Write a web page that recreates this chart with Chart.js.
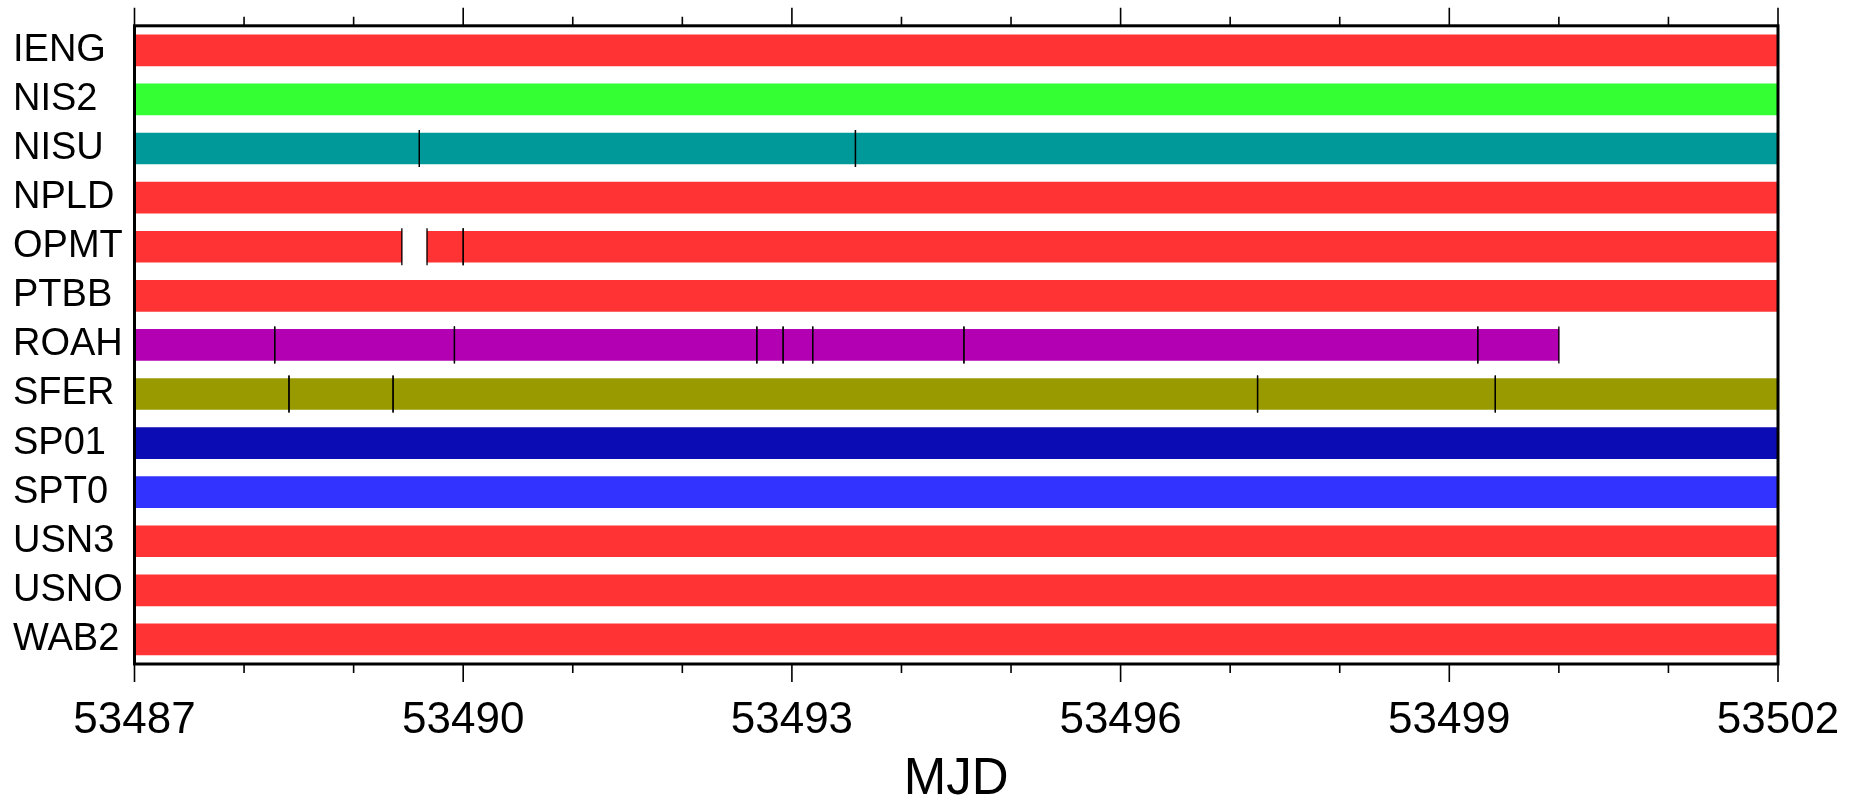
<!DOCTYPE html>
<html>
<head>
<meta charset="utf-8">
<title>Station data availability by MJD</title>
<script src="https://cdn.jsdelivr.net/npm/chart.js@4/dist/chart.umd.min.js"></script>
<style>
  html, body { margin: 0; padding: 0; background: #fff; }
  canvas { display: block; }
</style>
</head>
<body>
<canvas id="mjdChart" width="1862" height="805"></canvas>
<script>
// stations, top to bottom
var stations = ['IENG', 'NIS2', 'NISU', 'NPLD', 'OPMT', 'PTBB', 'ROAH', 'SFER', 'SP01', 'SPT0', 'USN3', 'USNO', 'WAB2'];
var stationColors = ['#ff3333', '#33ff33', '#009999', '#ff3333', '#ff3333', '#ff3333', '#b300b3',
                     '#999900', '#0c0cb4', '#3333ff', '#ff3333', '#ff3333', '#ff3333'];

// data segments (one entry per segment)
var segStation = ['IENG',
                  'NIS2',
                  'NISU', 'NISU', 'NISU',
                  'NPLD',
                  'OPMT', 'OPMT', 'OPMT',
                  'PTBB',
                  'ROAH', 'ROAH', 'ROAH', 'ROAH', 'ROAH', 'ROAH', 'ROAH', 'ROAH',
                  'SFER', 'SFER', 'SFER', 'SFER', 'SFER',
                  'SP01', 'SPT0', 'USN3', 'USNO', 'WAB2'];
var segFrom = [53487,
               53487,
               53487, 53489.60, 53493.58,
               53487,
               53487, 53489.67, 53490.00,
               53487,
               53487, 53488.28, 53489.92, 53492.68, 53492.92, 53493.19, 53494.57, 53499.26,
               53487, 53488.41, 53489.36, 53497.25, 53499.42,
               53487, 53487, 53487, 53487, 53487];
var segTo = [53502,
             53502,
             53489.60, 53493.58, 53502,
             53502,
             53489.44, 53490.00, 53502,
             53502,
             53488.28, 53489.92, 53492.68, 53492.92, 53493.19, 53494.57, 53499.26, 53500.00,
             53488.41, 53489.36, 53497.25, 53499.42, 53502,
             53502, 53502, 53502, 53502, 53502];

var mjdMin = 53487;
var mjdMax = 53502;
var mjdLabelStep = 3;

var segData = segStation.map(function (s, i) {
  return { x: [segFrom[i], segTo[i]], y: s };
});

// frame, day ticks on top and bottom, and black marks at each segment end
var frameAndMarks = {
  id: 'frameAndMarks',
  afterDatasetsDraw: function (chart) {
    var ctx = chart.ctx;
    var area = chart.chartArea;
    var xs = chart.scales.x;
    ctx.save();

    ctx.strokeStyle = '#000';
    ctx.lineWidth = 1.3;
    chart.getDatasetMeta(0).data.forEach(function (bar) {
      var p = bar.getProps(['x', 'y', 'base', 'height'], true);
      var t = p.y - p.height / 2 - 3;
      var b = p.y + p.height / 2 + 3;
      [p.base, p.x].forEach(function (px) {
        ctx.beginPath();
        ctx.moveTo(px, t);
        ctx.lineTo(px, b);
        ctx.stroke();
      });
    });

    ctx.lineWidth = 1.6;
    for (var v = mjdMin; v <= mjdMax; v++) {
      var px = xs.getPixelForValue(v);
      var len = (v - mjdMin) % mjdLabelStep === 0 ? 18 : 9;
      ctx.beginPath();
      ctx.moveTo(px, area.bottom);
      ctx.lineTo(px, area.bottom + len);
      ctx.moveTo(px, area.top);
      ctx.lineTo(px, area.top - len);
      ctx.stroke();
    }

    ctx.lineWidth = 3;
    ctx.strokeRect(area.left, area.top, area.right - area.left, area.bottom - area.top);
    ctx.restore();
  }
};

var ctx = document.getElementById('mjdChart').getContext('2d');
var chart = new Chart(ctx, {
  type: 'bar',
  data: {
    labels: stations,
    datasets: [{
      data: segData,
      backgroundColor: function (c) {
        var raw = c.raw;
        return raw ? stationColors[stations.indexOf(raw.y)] : '#000';
      },
      borderWidth: 0,
      barThickness: 31
    }]
  },
  options: {
    indexAxis: 'y',
    responsive: false,
    animation: false,
    layout: { padding: { left: 13, right: 84, top: 24, bottom: 0 } },
    plugins: {
      legend: { display: false },
      tooltip: { enabled: false }
    },
    scales: {
      x: {
        type: 'linear',
        position: 'bottom',
        min: mjdMin,
        max: mjdMax,
        grid: { display: false },
        border: { display: false },
        ticks: {
          stepSize: mjdLabelStep,
          padding: 27,
          color: '#000',
          maxRotation: 0,
          font: { family: '"Liberation Sans", Arial, sans-serif', size: 44, lineHeight: 1 },
          callback: function (v) { return String(v); }
        },
        title: {
          display: true,
          text: 'MJD',
          color: '#000',
          padding: { top: 0, bottom: 0 },
          font: { family: '"Liberation Sans", Arial, sans-serif', size: 51, lineHeight: 1 }
        },
        afterFit: function (scale) {
          scale.height = 141;
          scale.paddingLeft = 0;
          scale.paddingRight = 0;
        }
      },
      y: {
        type: 'category',
        position: 'left',
        grid: { display: false },
        border: { display: false },
        ticks: {
          crossAlign: 'far',
          color: '#000',
          font: { family: '"Liberation Sans", Arial, sans-serif', size: 38 }
        },
        afterFit: function (scale) { scale.width = 121.5; }
      }
    }
  },
  plugins: [frameAndMarks]
});
</script>
</body>
</html>
